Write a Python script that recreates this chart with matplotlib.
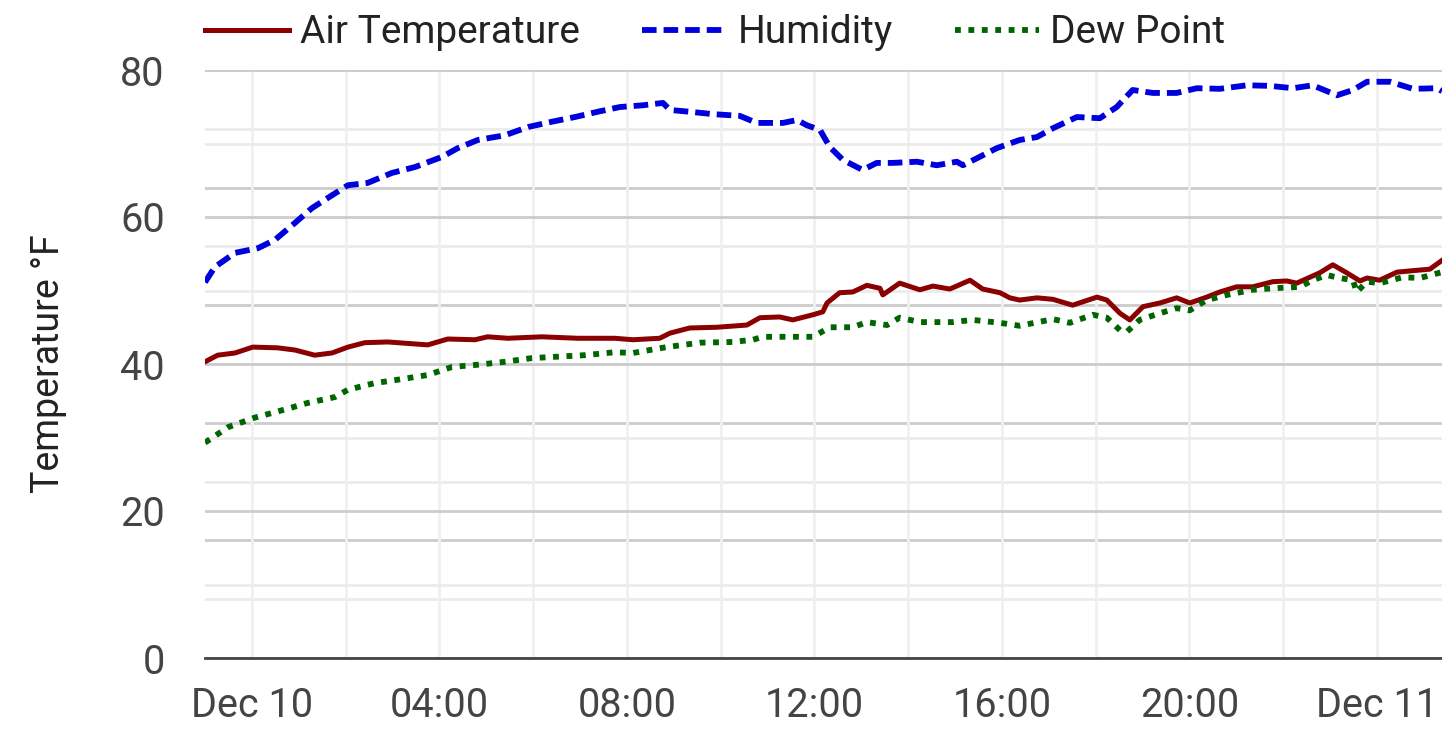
import datetime as dt
import matplotlib
matplotlib.use('Agg')
import matplotlib.pyplot as plt
import matplotlib.dates as mdates
from matplotlib.ticker import MultipleLocator, FuncFormatter

plt.rcParams['font.family'] = ['Roboto', 'DejaVu Sans']

# hours after Dec 10 00:00
air_hours = [-1.00, -0.73, -0.36, 0.02, 0.55, 0.92, 1.34, 1.71, 2.05, 2.41, 2.90, 3.75, 4.18, 4.76,
             5.03, 5.46, 6.19, 6.95, 7.74, 8.13, 8.70, 8.92, 9.34, 9.92, 10.56, 10.84, 11.26, 11.54,
             11.97, 12.18, 12.27, 12.54, 12.82, 13.12, 13.40, 13.46, 13.82, 14.25, 14.53, 14.89,
             15.32, 15.59, 15.96, 16.17, 16.38, 16.75, 17.09, 17.51, 18.03, 18.24, 18.52, 18.73,
             19.01, 19.37, 19.73, 20.01, 20.37, 20.65, 21.01, 21.35, 21.78, 22.08, 22.29, 22.78,
             23.06, 23.36, 23.64, 23.79, 24.06, 24.43, 24.77, 25.13, 25.39]
air_temp = [40.3, 41.2, 41.5, 42.3, 42.2, 41.9, 41.2, 41.5, 42.3, 42.9, 43.0, 42.6, 43.4, 43.3,
            43.7, 43.5, 43.7, 43.5, 43.5, 43.3, 43.5, 44.2, 44.9, 45.0, 45.3, 46.3, 46.4, 46.0,
            46.7, 47.1, 48.3, 49.7, 49.8, 50.7, 50.3, 49.4, 51.0, 50.1, 50.6, 50.2,
            51.4, 50.2, 49.7, 49.0, 48.7, 49.0, 48.8, 48.0, 49.1, 48.7, 46.9, 46.0,
            47.8, 48.3, 49.0, 48.3, 49.1, 49.8, 50.5, 50.5, 51.2, 51.3, 51.0, 52.4,
            53.5, 52.4, 51.3, 51.7, 51.4, 52.5, 52.7, 52.9, 54.1]

hum_hours = [-1.00, -0.79, -0.36, 0.13, 0.49, 0.92, 1.28, 1.71, 2.05, 2.47, 2.99, 3.48, 4.05, 4.39,
             4.82, 5.40, 5.89, 6.40, 6.89, 7.38, 7.85, 8.34, 8.77, 8.92, 9.34, 9.83, 10.41, 10.77,
             11.33, 11.63, 11.84, 12.12, 12.33, 12.61, 13.03, 13.33, 13.67, 14.19, 14.61, 15.04,
             15.17, 15.47, 15.89, 16.38, 16.75, 17.09, 17.60, 18.09, 18.45, 18.79, 19.22, 19.73,
             20.16, 20.65, 21.23, 21.72, 22.21, 22.63, 23.15, 23.49, 23.79, 24.28, 24.77, 25.28, 25.39]
humidity = [63.9, 66.5, 68.9, 69.7, 71.1, 74.0, 76.5, 78.7, 80.4, 80.8, 82.5, 83.5, 85.2, 86.7,
            88.1, 88.9, 90.3, 91.2, 92.0, 92.9, 93.7, 94.0, 94.4, 93.2, 92.9, 92.5, 92.2, 91.0,
            91.0, 91.5, 90.6, 89.8, 86.9, 84.7, 83.0, 84.2, 84.2, 84.4, 83.8, 84.4,
            83.8, 85.0, 86.7, 88.1, 88.6, 90.1, 92.0, 91.8, 93.7, 96.6, 96.1, 96.1,
            96.9, 96.8, 97.4, 97.3, 96.9, 97.4, 95.7, 96.6, 98.0, 98.0, 96.8, 96.9, 96.4]

dew_hours = [-1.00, -0.51, 0.06, 0.64, 1.19, 1.77, 2.05, 2.62, 3.05, 3.75, 4.27, 4.82, 5.40, 5.97,
             6.53, 7.10, 7.74, 8.13, 8.85, 9.56, 10.26, 10.69, 10.90, 11.41, 11.97, 12.33, 12.82,
             13.12, 13.55, 13.82, 14.25, 14.95, 15.38, 15.96, 16.38, 17.09, 17.45, 17.94, 18.24,
             18.52, 18.67, 18.94, 19.37, 19.73, 20.01, 20.37, 20.80, 21.35, 21.78, 22.36, 22.63,
             22.93, 23.21, 23.49, 23.57, 23.79, 24.06, 24.55, 24.92, 25.39]
dew_point = [29.3, 31.4, 32.7, 33.7, 34.7, 35.5, 36.5, 37.4, 37.8, 38.5, 39.6, 39.9, 40.3, 40.8,
             41.0, 41.2, 41.6, 41.5, 42.3, 42.9, 43.0, 43.3, 43.7, 43.7, 43.7, 45.0, 45.0,
             45.7, 45.3, 46.3, 45.7, 45.7, 46.0, 45.6, 45.2, 46.1, 45.6, 46.7, 46.3,
             44.6, 44.4, 46.0, 46.9, 47.6, 47.3, 48.7, 49.4, 50.1, 50.3, 50.5, 51.4,
             52.1, 51.7, 51.4, 49.8, 51.2, 51.0, 51.8, 51.7, 52.5]

start = dt.datetime(2023, 12, 10)
x_start, x_end = -1.0, 25.39


def to_time(hours):
    return [start + dt.timedelta(hours=h) for h in hours]


fig = plt.figure(figsize=(14.42, 7.55), dpi=100)
ax = fig.add_axes([205 / 1442, 1 - 658 / 755, 1 - 205 / 1442, (658 - 70) / 755])
ax2 = ax.twinx()
ax.set_zorder(2)
ax.patch.set_visible(False)

# humidity grid (0-100 scale, hidden axis)
ax2.set_ylim(0, 100)
ax2.yaxis.set_major_locator(MultipleLocator(20))
ax2.yaxis.set_minor_locator(MultipleLocator(10))
ax2.grid(True, which='major', axis='y', color='#cccccc', lw=2)
ax2.grid(True, which='minor', axis='y', color='#ebebeb', lw=2)
ax2.tick_params(which='both', right=False, labelright=False)
for s in ax2.spines.values():
    s.set_visible(False)

ax.set_ylim(0, 80)
ax.set_xlim(to_time([x_start])[0], to_time([x_end])[0])
ax.yaxis.set_major_locator(MultipleLocator(20))
ax.yaxis.set_minor_locator(MultipleLocator(10))
ax.grid(True, which='major', axis='y', color='#cccccc', lw=2)
ax.grid(True, which='minor', axis='y', color='#ebebeb', lw=2)

ax.xaxis.set_major_locator(mdates.HourLocator(byhour=[0, 4, 8, 12, 16, 20]))
ax.xaxis.set_minor_locator(mdates.HourLocator(byhour=range(0, 24, 2)))


def fmt_time(v, pos):
    d = mdates.num2date(v)
    if d.hour == 0 and d.minute == 0:
        return d.strftime('%b ') + str(d.day)
    return d.strftime('%H:%M')


ax.xaxis.set_major_formatter(FuncFormatter(fmt_time))
ax.grid(True, which='both', axis='x', color='#f0f0f0', lw=2)

ax.plot(to_time(air_hours), air_temp, color='#8b0000', lw=3.6, label='Air Temperature',
        solid_joinstyle='round')
ax.plot(to_time(hum_hours), humidity, color='#0000dd', lw=4.2, dashes=(2.5, 1.2),
        transform=ax2.transData, label='Humidity')
ax.plot(to_time(dew_hours), dew_point, color='#006400', lw=4.2, dashes=(1.0, 1.3),
        label='Dew Point')

for side in ['left', 'right', 'top']:
    ax.spines[side].set_visible(False)
ax.spines['bottom'].set_color('#444444')
ax.spines['bottom'].set_linewidth(2)
ax.tick_params(which='both', length=0, labelsize=28.5, colors='#444444')
ax.tick_params(axis='y', pad=29)
ax.tick_params(axis='x', pad=20)
ax.set_ylabel('Temperature °F', fontsize=27, color='#222222', labelpad=38)

ax.legend(loc='center left', bbox_to_anchor=(0.0, 1.063), ncol=3, frameon=False, fontsize=28,
          handlelength=2.15, handletextpad=0.3, columnspacing=1.6, borderaxespad=0.0,
          borderpad=0.0, labelcolor='#222222')

fig.savefig('out.png', dpi=100)
